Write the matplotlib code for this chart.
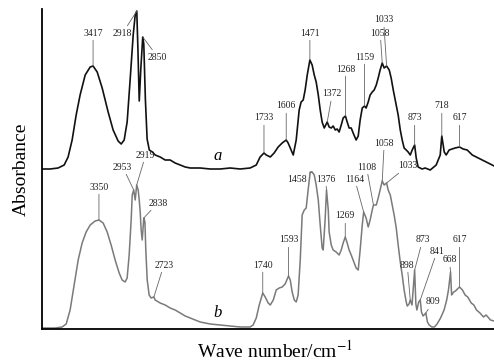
import numpy as np
import matplotlib
matplotlib.use("Agg")
import matplotlib.pyplot as plt

# curve a (black) -- wavenumber / absorbance
wn_a = [4000, 3907, 3816, 3747, 3702, 3656, 3610, 3565, 3507, 3450, 3417, 3370, 3313, 3245,
        3188, 3131, 3096, 3062, 3028, 2994, 2959, 2936, 2918, 2905, 2890, 2872, 2850, 2838,
        2820, 2800, 2775, 2740, 2708, 2651, 2594, 2537, 2480, 2423, 2365, 2308, 2194, 2080,
        1983, 1926, 1869, 1812, 1777, 1755, 1733, 1720, 1697, 1675, 1652, 1629, 1606, 1595,
        1578, 1566, 1549, 1532, 1521, 1509, 1498, 1486, 1471, 1458, 1446, 1435, 1423, 1412,
        1401, 1389, 1372, 1361, 1349, 1338, 1326, 1315, 1304, 1292, 1281, 1268, 1258, 1247,
        1235, 1224, 1207, 1195, 1184, 1172, 1159, 1150, 1138, 1127, 1115, 1104, 1092, 1081,
        1070, 1058, 1047, 1033, 1018, 1007, 995, 984, 967, 955, 944, 933, 921, 910, 898, 887,
        873, 864, 853, 830, 813, 784, 750, 727, 718, 704, 693, 676, 659, 642, 617, 596, 573,
        544, 510, 476, 442, 419]
abs_a = [1.60, 1.60, 1.61, 1.64, 1.72, 1.89, 2.14, 2.34, 2.54, 2.62, 2.63, 2.57, 2.41, 2.17,
         1.99, 1.88, 1.85, 1.89, 2.07, 2.49, 2.94, 3.14, 3.18, 2.80, 2.28, 2.60, 2.92, 2.85,
         2.30, 1.90, 1.79, 1.77, 1.74, 1.72, 1.69, 1.69, 1.66, 1.64, 1.62, 1.61, 1.61, 1.60,
         1.60, 1.61, 1.60, 1.61, 1.64, 1.72, 1.76, 1.74, 1.72, 1.76, 1.82, 1.86, 1.89, 1.86,
         1.79, 1.74, 1.89, 2.19, 2.27, 2.29, 2.39, 2.54, 2.69, 2.64, 2.54, 2.47, 2.34, 2.19,
         2.07, 2.01, 2.07, 2.02, 2.01, 2.03, 1.99, 2.00, 1.97, 2.04, 2.11, 2.13, 2.07, 2.01,
         2.01, 1.96, 1.89, 1.93, 2.09, 2.21, 2.23, 2.21, 2.27, 2.34, 2.37, 2.39, 2.44, 2.51,
         2.59, 2.66, 2.61, 2.63, 2.59, 2.51, 2.39, 2.29, 2.14, 1.99, 1.89, 1.81, 1.79, 1.77, 1.74, 1.79,
         1.84, 1.71, 1.62, 1.60, 1.61, 1.59, 1.64, 1.74, 1.93, 1.77, 1.74, 1.79, 1.80, 1.81, 1.82, 1.80, 1.79,
         1.74, 1.71, 1.68, 1.65, 1.63]

# curve b (grey)
wn_b = [4000, 3850, 3770, 3724, 3679, 3633, 3587, 3542, 3496, 3450, 3393, 3350, 3302, 3256,
        3211, 3165, 3119, 3085, 3051, 3028, 3005, 2982, 2970, 2953, 2936, 2919, 2902, 2890,
        2879, 2868, 2856, 2838, 2825, 2815, 2799, 2777, 2754, 2723, 2708, 2651, 2594, 2537,
        2480, 2423, 2365, 2308, 2251, 2194, 2137, 2080, 1983, 1926, 1869, 1812, 1795, 1777,
        1760, 1740, 1726, 1709, 1697, 1680, 1663, 1646, 1629, 1612, 1593, 1583, 1572, 1560,
        1549, 1538, 1526, 1515, 1503, 1492, 1481, 1469, 1458, 1446, 1435, 1423, 1412, 1401,
        1395, 1384, 1376, 1366, 1361, 1349, 1338, 1321, 1304, 1292, 1281, 1269, 1258, 1247,
        1235, 1224, 1207, 1195, 1184, 1172, 1164, 1150, 1138, 1127, 1115, 1108, 1092, 1081,
        1070, 1058, 1047, 1033, 1024, 1012, 1001, 990, 978, 967, 955, 944, 933, 921, 915, 905,
        898, 888, 873, 866, 860, 850, 841, 834, 825, 809, 800, 790, 775, 760, 745, 725, 705,
        690, 680, 668, 662, 650, 640, 617, 600, 585, 570, 550, 535, 520, 500, 480, 465, 440, 420]
abs_b = [0.01, 0.01, 0.02, 0.05, 0.19, 0.44, 0.69, 0.86, 0.97, 1.04, 1.08, 1.09, 1.06, 0.97,
         0.84, 0.69, 0.56, 0.49, 0.47, 0.51, 0.74, 1.09, 1.34, 1.39, 1.29, 1.44, 1.39, 1.29,
         1.17, 0.99, 0.89, 1.11, 1.07, 0.79, 0.49, 0.34, 0.31, 0.32, 0.29, 0.26, 0.24, 0.21,
         0.19, 0.16, 0.13, 0.11, 0.09, 0.07, 0.06, 0.05, 0.04, 0.03, 0.02, 0.02, 0.04, 0.11,
         0.24, 0.36, 0.32, 0.26, 0.24, 0.29, 0.39, 0.41, 0.42, 0.45, 0.53, 0.49, 0.37, 0.29,
         0.27, 0.34, 0.69, 1.14, 1.19, 1.21, 1.39, 1.57, 1.57, 1.54, 1.44, 1.29, 1.04, 0.81,
         0.79, 1.09, 1.39, 1.19, 0.97, 0.84, 0.79, 0.77, 0.74, 0.79, 0.86, 0.92, 0.86, 0.79,
         0.74, 0.69, 0.61, 0.59, 0.79, 1.04, 1.17, 1.11, 1.02, 1.09, 1.19, 1.24, 1.24, 1.31,
         1.39, 1.48, 1.44, 1.46, 1.39, 1.34, 1.24, 1.14, 1.01, 0.84, 0.67, 0.54, 0.39, 0.27, 0.23, 0.25,
         0.29, 0.24, 0.59, 0.25, 0.19, 0.27, 0.29, 0.17, 0.13, 0.16, 0.07, 0.04, 0.02, 0.02, 0.05, 0.11, 0.19,
         0.29, 0.39, 0.57, 0.34, 0.37, 0.38, 0.42, 0.39, 0.34, 0.32, 0.26, 0.24, 0.19, 0.16, 0.12, 0.14, 0.09, 0.08]

peaks_a = [3417, 2918, 2850, 1733, 1606, 1471, 1372, 1268, 1159, 1058, 1033, 873, 718, 617]
peaks_b = [3350, 2953, 2919, 2838, 2723, 1740, 1593, 1458, 1376, 1269, 1164, 1108, 1058,
           1033, 898, 873, 841, 809, 668, 617]

# label offsets from the peak, in pixels (layout only)
offs_a = [(0, 33), (-14, -22), (15, -20), (0, 35), (0, 34), (0, 27), (5, 28), (0, 47),
          (0, 49), (-2, 30), (-3, 46), (0, 27), (0, 30), (0, 29)]
offs_b = [(0, 33), (-11, 23), (9, 30), (14, 15), (10, 32), (0, 28), (0, 36), (-15, -7),
          (-1, 11), (0, 21), (-9, 33), (-7, 38), (2, 38), (21, 17), (-3, 35), (8, 30),
          (17, 49), (7, 11), (-1, 12), (0, 47)]


def fwd(w):
    w = np.asarray(w, dtype=float)
    return np.where(w < 2000, 2 * w, w + 2000)


def inv(u):
    u = np.asarray(u, dtype=float)
    return np.where(u < 4000, u / 2, u - 2000)


plt.rcParams.update({
    "font.family": ["Liberation Serif", "DejaVu Serif"],
    "mathtext.fontset": "stix",
})

fig = plt.figure(figsize=(4.94, 3.64), dpi=100)
ax = fig.add_axes([42 / 494, 1 - 329 / 364, 452 / 494, 320 / 364])
ax.set_xscale("function", functions=(fwd, inv))

ax.plot(wn_a, abs_a, color="#111111", lw=1.2)
ax.plot(wn_b, abs_b, color="#7a7a7a", lw=1.1)


def label_peaks(wn, ab, peaks, offs):
    xs = np.array(wn[::-1], dtype=float)
    ys = np.array(ab[::-1], dtype=float)
    for p, (dx, dy) in zip(peaks, offs):
        y = np.interp(p, xs, ys)
        ax.annotate(str(p), xy=(p, y), xytext=(dx, dy), textcoords="offset pixels",
                    ha="center", va="center", fontsize=7, color="#222222",
                    arrowprops=dict(arrowstyle="-", color="#666666", lw=0.6,
                                    shrinkA=0, shrinkB=0))


label_peaks(wn_a, abs_a, peaks_a, offs_a)
label_peaks(wn_b, abs_b, peaks_b, offs_b)

ax.text(2000, 1.73, "a", style="italic", fontsize=12, ha="center", va="center")
ax.text(2000, 0.16, "b", style="italic", fontsize=12, ha="center", va="center")

ax.set_xlim(4000, 420)
ax.set_ylim(0, 3.2)
ax.set_xticks([])
ax.set_yticks([])
for side in ("top", "right"):
    ax.spines[side].set_visible(False)
for side in ("left", "bottom"):
    ax.spines[side].set_linewidth(1.3)

fig.text(21 / 494, 1 - 169 / 364, "Absorbance", rotation=90, ha="center", va="center",
         fontsize=14)
fig.text(275 / 494, 1 - 358 / 364, "Wave number/cm$^{-1}$", ha="center", va="baseline",
         fontsize=14)

fig.savefig("out.png", dpi=100, facecolor="white")
